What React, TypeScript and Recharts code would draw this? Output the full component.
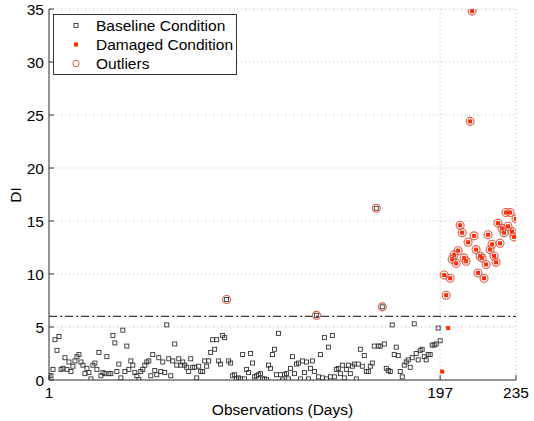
import {
    ScatterChart, Scatter, XAxis, YAxis, CartesianGrid, ReferenceLine, Legend
} from "recharts";

// DI per day, baseline period (days 1..197)
const baselineDI = [
    0.4, 0.4, 1.0, 3.8, 2.8, 4.1, 1.0, 1.1, 2.1, 1.0,
    1.7, 0.8, 1.3, 1.8, 2.2, 2.4, 1.7, 1.4, 0.6, 1.1,
    0.7, 0.1, 1.4, 1.6, 1.0, 2.6, 0.4, 0.7, 0.6, 2.2,
    0.6, 0.6, 4.2, 3.5, 0.8, 1.5, 0.2, 4.7, 0.8, 3.2,
    1.0, 1.8, 1.4, 0.7, 0.4, 0.05, 0.8, 1.0, 1.4, 1.7,
    1.8, 0.4, 2.4, 0.9, 0.5, 2.1, 0.8, 1.7, 0.7, 5.2,
    2.0, 0.4, 1.8, 3.4, 1.4, 2.0, 1.4, 1.7, 1.4, 1.2,
    0.8, 2.0, 1.2, 1.2, 0.2, 1.3, 0.8, 0.8, 1.8, 1.3,
    1.8, 2.6, 3.8, 2.9, 3.8, 1.8, 1.5, 4.2, 4.0, 7.6,
    1.8, 1.6, 0.4, 0.5, 0.1, 0.2, 0.1, 2.4,
    0.1, 1.0, 0.7, 2.5, 1.6, 0.3, 0.4, 0.5, 0.6, 0.1,
    0.1, 0.05, 1.4, 1.1, 2.4, 2.9, 0.5, 4.4, 0.5, 0.0,
    0.5, 0.6, 0.1, 1.1, 2.2, 0.6, 1.5, 1.6, 0.1, 1.8,
    0.7, 1.7, 0.1, 1.1, 1.8, 0.8, 6.1, 0.3, 2.4, 0.2,
    4.0, 0.1, 3.1, 0.3, 4.2, 0.3, 1.0, 1.1, 0.6, 1.4,
    0.2, 1.0, 1.4, 0.6, 1.3, 1.5, 0.1, 1.5, 2.9, 1.3,
    2.3, 0.8, 0.8, 1.3, 1.6, 3.2, 16.2, 3.2, 3.2, 6.9,
    3.4, 1.1, 0.9, 0.8, 5.2, 2.4, 3.1, 2.3, 0.8, 0.3,
    1.4, 1.7, 1.9, 1.2, 2.1, 5.3, 2.5, 1.9, 2.8, 2.9,
    2.2, 1.9, 2.4, 2.4, 3.3, 3.3, 3.4, 4.9, 3.7
];

// DI per day, damaged period (days 198..235)
const damagedDI = [
    0.8, 9.9, 8.0, 4.9, 9.6, 11.4, 11.8, 11.0, 12.2, 14.6,
    13.9, 11.5, 11.2, 13.0, 24.4, 34.8, 13.6, 12.3, 10.1, 11.7,
    11.5, 9.6, 10.9, 13.7, 12.3, 12.8, 11.7, 11.1, 14.8, 12.9,
    14.3, 13.9, 15.8, 14.5, 15.8, 14.0, 13.5, 15.2
];

const firstBaselineDay = 1;
const firstDamagedDay = 198;
const dayTicks = [1, 197, 235];
const diTicks = [0, 5, 10, 15, 20, 25, 30, 35];
const threshold = 6;

const baseline = baselineDI.map((di, i) => ({ day: firstBaselineDay + i, di }));
const damaged = damagedDI.map((di, i) => ({ day: firstDamagedDay + i, di }));
const outliers = [...baseline, ...damaged].filter(p => p.di > threshold);

const font = '"Liberation Sans", Arial, Helvetica, sans-serif';
const fontSize = 15.5;
const axisColor = "#333";
const redFill = "#ff2a00";
const ringColor = "#e25a48";

function OpenSquare(props: any) {
    const { cx, cy } = props;
    return <rect x={cx - 2} y={cy - 2} width={4} height={4} fill="none" stroke="#333" strokeWidth={0.9} />;
}

function RedSquare(props: any) {
    const { cx, cy } = props;
    return <rect x={cx - 2} y={cy - 2} width={4} height={4} fill={redFill} />;
}

function Ring(props: any) {
    const { cx, cy } = props;
    return <circle cx={cx} cy={cy} r={4} fill="none" stroke={ringColor} strokeWidth={1.1} />;
}

function LegendBox() {
    const rows = [
        { label: "Baseline Condition", icon: <rect x={20} y={7.5} width={4} height={4} fill="none" stroke="#333" strokeWidth={0.9} /> },
        { label: "Damaged Condition", icon: <rect x={20} y={7.5} width={4} height={4} fill={redFill} /> },
        { label: "Outliers", icon: <circle cx={22} cy={9.5} r={3.2} fill="none" stroke={ringColor} strokeWidth={1} /> },
    ];
    return (
        <div style={{
            width: 184, height: 61, boxSizing: "border-box", border: "1px solid " + axisColor,
            background: "#fff", position: "relative", fontFamily: font, fontSize, color: "#000"
        }}>
            {rows.map((r, i) => (
                <div key={r.label} style={{ position: "absolute", left: 0, top: 1 + i * 19.2, height: 19, display: "flex", alignItems: "center" }}>
                    <svg width={42} height={19} style={{ display: "block" }}>{r.icon}</svg>
                    <span style={{ lineHeight: "19px", whiteSpace: "nowrap" }}>{r.label}</span>
                </div>
            ))}
        </div>
    );
}

function YTitle() {
    return (
        <text x={21} y={195} transform="rotate(-90, 21, 195)" textAnchor="middle"
            fontFamily={font} fontSize={fontSize} fill="#000">DI</text>
    );
}

export default function App() {
    const tickStyle = { fill: "#000", fontSize, fontFamily: font };
    return (
        <div style={{ position: "absolute", left: 0, top: 0, background: "#fff" }}>
            <ScatterChart width={534} height={421} margin={{ top: 9, right: 18, bottom: 0, left: 0 }}>
                <CartesianGrid stroke="#bdbdbd" strokeDasharray="1 3" />

                <XAxis
                    type="number"
                    dataKey="day"
                    domain={[1, 235]}
                    ticks={dayTicks}
                    interval={0}
                    allowDataOverflow
                    height={41}
                    tickSize={-5}
                    tickMargin={12}
                    tick={tickStyle}
                    axisLine={{ stroke: axisColor }}
                    tickLine={{ stroke: axisColor }}
                    label={{ value: "Observations (Days)", position: "insideBottom", offset: 6.5, fill: "#000", fontSize, fontFamily: font }}
                />
                <XAxis
                    xAxisId="top"
                    orientation="top"
                    type="number"
                    dataKey="day"
                    domain={[1, 235]}
                    ticks={dayTicks}
                    interval={0}
                    allowDataOverflow
                    height={0}
                    tickSize={-5}
                    tick={false}
                    axisLine={{ stroke: axisColor }}
                    tickLine={{ stroke: axisColor }}
                />
                <YAxis
                    type="number"
                    dataKey="di"
                    domain={[0, 35]}
                    ticks={diTicks}
                    interval={0}
                    allowDataOverflow
                    width={49}
                    tickSize={-5}
                    tickMargin={10}
                    tick={tickStyle}
                    axisLine={{ stroke: axisColor }}
                    tickLine={{ stroke: axisColor }}
                    label={{ content: YTitle }}
                />
                <YAxis
                    yAxisId="right"
                    orientation="right"
                    type="number"
                    dataKey="di"
                    domain={[0, 35]}
                    ticks={diTicks}
                    interval={0}
                    allowDataOverflow
                    width={0}
                    tickSize={-5}
                    tick={false}
                    axisLine={{ stroke: axisColor }}
                    tickLine={{ stroke: axisColor }}
                />

                <ReferenceLine y={threshold} stroke="#3a3a3a" strokeWidth={1.3} strokeDasharray="8 3 2 3" />

                <Scatter name="Baseline Condition" data={baseline} shape={OpenSquare} isAnimationActive={false} />
                <Scatter name="Damaged Condition" data={damaged} shape={RedSquare} isAnimationActive={false} />
                <Scatter name="Outliers" data={outliers} shape={Ring} isAnimationActive={false} />

                <Legend
                    layout="vertical"
                    align="center"
                    verticalAlign="middle"
                    content={() => <LegendBox />}
                    wrapperStyle={{ left: 53, top: 14, width: 184, height: 61 }}
                />
            </ScatterChart>
        </div>
    );
}
